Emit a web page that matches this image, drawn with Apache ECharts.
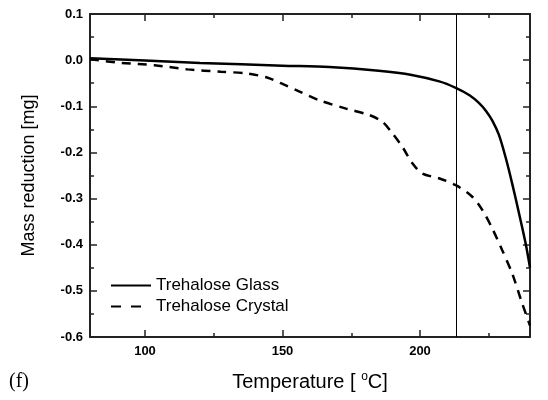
<!DOCTYPE html>
<html>
<head>
<meta charset="utf-8">
<script src="https://cdn.jsdelivr.net/npm/echarts@6/dist/echarts.min.js"></script>
<style>html,body{margin:0;padding:0;background:#fff;}#c{width:548px;height:400px;}</style>
</head>
<body>
<div id="c"></div>
<script>
// Data
const glassT = [80, 100, 120, 150, 167, 185, 197, 207, 213, 218, 221.5, 224, 226.3, 228.7, 231.1, 233.5, 236, 238.4, 240];
const glassV = [0.004, -0.001, -0.006, -0.012, -0.015, -0.023, -0.032, -0.046, -0.060, -0.076, -0.093, -0.110, -0.131, -0.162, -0.210, -0.267, -0.332, -0.397, -0.450];
const crystalT = [80, 91.4, 103.5, 115.5, 127.6, 137.3, 144.6, 149.4, 156.2, 163.4, 173.1, 181.6, 186.4, 190, 193.6, 197.3, 200.9, 206.9, 213, 219, 222.7, 226.3, 229.9, 233.5, 237.2, 240];
const crystalV = [0.002, -0.006, -0.011, -0.020, -0.025, -0.029, -0.038, -0.050, -0.068, -0.087, -0.105, -0.119, -0.134, -0.159, -0.188, -0.224, -0.246, -0.256, -0.271, -0.296, -0.325, -0.365, -0.412, -0.462, -0.528, -0.575];
const seriesNames = ['Trehalose Glass', 'Trehalose Crystal'];
const xMajorTicks = [100, 150, 200];
const xMinorTicks = [125, 175, 225];
const xRange = [80, 240];
const yRange = [-0.6, 0.1];
const yStep = 0.1;
const markerT = 213;
const yTitle = 'Mass reduction [mg]';
const panelLabel = '(f)';

const FONT = 'Arial, "Liberation Sans", sans-serif';
const AX = '#222';
const zip = (a, b) => a.map((v, i) => [v, b[i]]);

function xAx(pos, ticks, len, showLine, showLabel, extra) {
  return Object.assign({
    type: 'value', position: pos, min: xRange[0], max: xRange[1], gridIndex: 0,
    axisLine: { show: showLine, onZero: false, lineStyle: { color: AX, width: 2 } },
    axisTick: { show: true, inside: true, length: len, customValues: ticks, lineStyle: { color: AX, width: 1.5 } },
    axisLabel: showLabel ? { show: true, customValues: ticks, margin: 8, color: '#000', fontFamily: FONT, fontWeight: 'bold', fontSize: 13 } : { show: false },
    splitLine: { show: false }
  }, extra || {});
}
function yAx(pos, showLabel, extra) {
  return Object.assign({
    type: 'value', position: pos, min: yRange[0], max: yRange[1], interval: yStep,
    axisLine: { show: true, onZero: false, lineStyle: { color: AX, width: 2 } },
    axisTick: { show: true, inside: true, length: 7, lineStyle: { color: AX, width: 1.5 } },
    minorTick: { show: true, splitNumber: 2, length: 4, lineStyle: { color: AX, width: 1.5 } },
    axisLabel: showLabel ? { show: true, margin: 7, color: '#000', fontFamily: FONT, fontWeight: 'bold', fontSize: 13, formatter: v => (Math.round(v * 10) / 10).toFixed(1) } : { show: false },
    splitLine: { show: false }, minorSplitLine: { show: false }
  }, extra || {});
}

const chart = echarts.init(document.getElementById('c'), null, { renderer: 'canvas' });
chart.setOption({
  animation: false,
  backgroundColor: '#fff',
  grid: { left: 90, right: 18, top: 14, bottom: 63, containLabel: false },
  xAxis: [
    xAx('bottom', xMajorTicks, 7, true, true, {
      name: '{a|Temperature [ }{s|o}{a|C]}', nameLocation: 'middle', nameGap: 34,
      nameTextStyle: { rich: {
        a: { fontFamily: FONT, fontSize: 20, color: '#000', lineHeight: 22 },
        s: { fontFamily: FONT, fontSize: 12, color: '#000', verticalAlign: 'top', lineHeight: 12 }
      } }
    }),
    xAx('bottom', xMinorTicks, 4, false, false),
    xAx('top', xMajorTicks, 7, true, false),
    xAx('top', xMinorTicks, 4, false, false)
  ],
  yAxis: [
    yAx('left', true, {
      name: yTitle, nameLocation: 'middle', nameGap: 52, nameRotate: 90,
      nameTextStyle: { fontFamily: FONT, fontSize: 18, color: '#000' }
    }),
    yAx('right', false)
  ],
  legend: {
    orient: 'vertical', left: 110, top: 277, padding: 0, itemWidth: 40, itemHeight: 14, itemGap: 4,
    textStyle: { fontFamily: FONT, fontSize: 17, color: '#000', lineHeight: 17 },
    itemStyle: { opacity: 0 },
    data: [
      { name: seriesNames[0] },
      { name: seriesNames[1], lineStyle: { type: [10, 10] } }
    ]
  },
  graphic: [
    { type: 'text', left: 9, top: 372, style: { text: panelLabel, font: '20px "Times New Roman", "Liberation Serif", serif', fill: '#000' } }
  ],
  series: [
    {
      name: seriesNames[0], type: 'line', xAxisIndex: 0, yAxisIndex: 0,
      data: zip(glassT, glassV), showSymbol: false, symbol: 'none', smooth: 0.3,
      lineStyle: { color: '#000', width: 2.5, type: 'solid' }, itemStyle: { color: '#000' },
      markLine: {
        silent: true, symbol: ['none', 'none'], label: { show: false },
        lineStyle: { color: '#000', width: 1, type: 'solid' },
        data: [{ xAxis: markerT }]
      }
    },
    {
      name: seriesNames[1], type: 'line', xAxisIndex: 0, yAxisIndex: 0,
      data: zip(crystalT, crystalV), showSymbol: false, symbol: 'none', smooth: 0.3,
      lineStyle: { color: '#000', width: 2.5, type: [9, 7] }, itemStyle: { color: '#000' }
    }
  ]
});
</script>
</body>
</html>
